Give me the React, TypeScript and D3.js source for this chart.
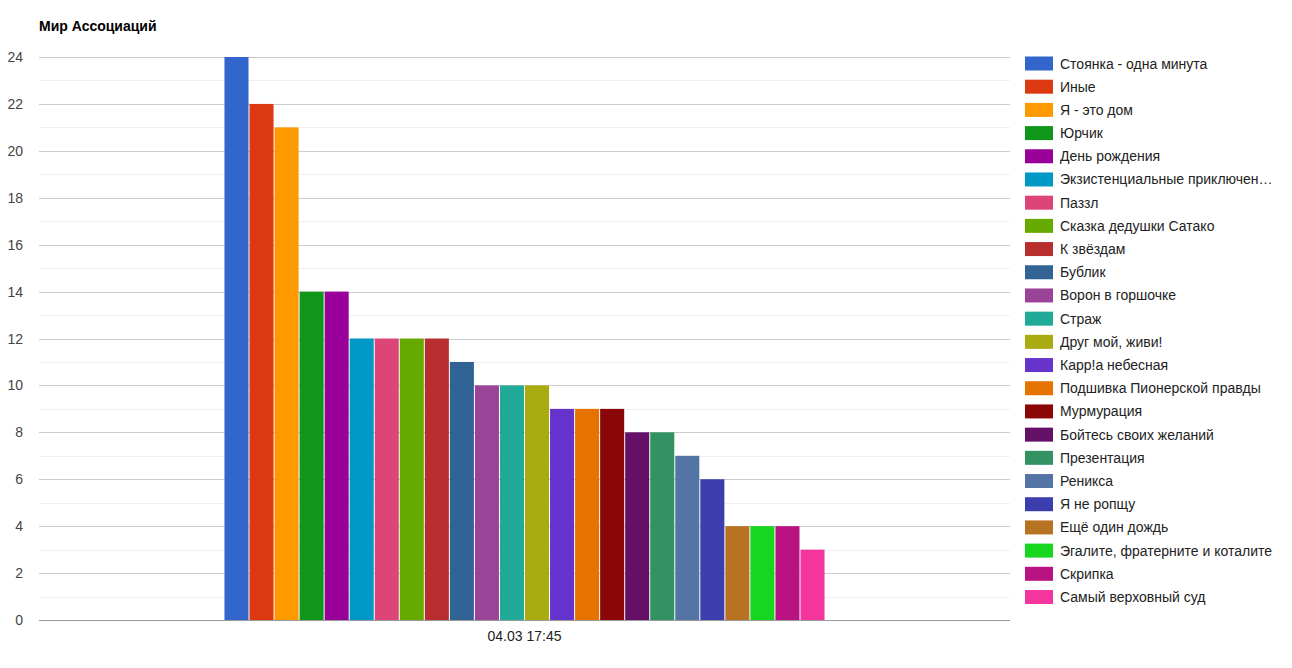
import React, { useEffect, useRef } from 'react';
import * as d3 from 'd3';

const title = 'Мир Ассоциаций';
const category = '04.03 17:45';

const seriesNames = [
  'Стоянка - одна минута',
  'Иные',
  'Я - это дом',
  'Юрчик',
  'День рождения',
  'Экзистенциальные приключения',
  'Паззл',
  'Сказка дедушки Сатако',
  'К звёздам',
  'Бублик',
  'Ворон в горшочке',
  'Страж',
  'Друг мой, живи!',
  'Карр!а небесная',
  'Подшивка Пионерской правды',
  'Мурмурация',
  'Бойтесь своих желаний',
  'Презентация',
  'Реникса',
  'Я не ропщу',
  'Ещё один дождь',
  'Эгалите, фратерните и коталите',
  'Скрипка',
  'Самый верховный суд',
];

const seriesValues = [24, 22, 21, 14, 14, 12, 12, 12, 12, 11, 10, 10, 10, 9, 9, 9, 8, 8, 7, 6, 4, 4, 4, 3];

const colors = [
  '#3366cc', '#dc3912', '#ff9900', '#109618', '#990099', '#0099c6',
  '#dd4477', '#66aa00', '#b82e2e', '#316395', '#994499', '#22aa99',
  '#aaaa11', '#6633cc', '#e67300', '#8b0707', '#651067', '#329262',
  '#5574a6', '#3b3eac', '#b77322', '#16d620', '#b91383', '#f4359e',
];

const yTicks = [0, 2, 4, 6, 8, 10, 12, 14, 16, 18, 20, 22, 24];

const WIDTH = 1292;
const HEIGHT = 668;
const FONT = 'Arial, "Liberation Sans", sans-serif';

export default function App() {
  const svgRef = useRef<SVGSVGElement>(null);

  useEffect(() => {
    if (!svgRef.current) return;
    const svg = d3.select(svgRef.current);
    svg.selectAll('*').remove();

    const plot = { left: 39, right: 1010, top: 57, bottom: 620 };

    svg.append('rect').attr('width', WIDTH).attr('height', HEIGHT).attr('fill', '#fff');

    // Title
    svg.append('text')
      .attr('x', 39)
      .attr('y', 31)
      .attr('font-family', FONT)
      .attr('font-size', '14px')
      .attr('font-weight', 'bold')
      .attr('fill', '#000')
      .text(title);

    const y = d3.scaleLinear().domain([0, 24]).range([plot.bottom, plot.top]);

    // minor gridlines (odd values)
    const minor = d3.range(1, 24, 2);
    svg.append('g')
      .selectAll('line')
      .data(minor)
      .join('line')
      .attr('x1', plot.left)
      .attr('x2', plot.right)
      .attr('y1', d => Math.round(y(d)) + 0.5)
      .attr('y2', d => Math.round(y(d)) + 0.5)
      .attr('stroke', '#f0f0f0');

    // major gridlines
    svg.append('g')
      .selectAll('line')
      .data(yTicks.filter(d => d !== 0))
      .join('line')
      .attr('x1', plot.left)
      .attr('x2', plot.right)
      .attr('y1', d => Math.round(y(d)) + 0.5)
      .attr('y2', d => Math.round(y(d)) + 0.5)
      .attr('stroke', '#cccccc');

    // y tick labels
    svg.append('g')
      .selectAll('text')
      .data(yTicks)
      .join('text')
      .attr('x', 23)
      .attr('y', d => y(d) + 5)
      .attr('text-anchor', 'end')
      .attr('font-family', FONT)
      .attr('font-size', '14px')
      .attr('fill', '#444')
      .text(d => String(d));

    // bars
    const x0 = d3.scaleBand<string>()
      .domain([category])
      .range([plot.left, plot.right])
      .paddingInner(0)
      .paddingOuter((1 - 0.618) / 2 / 0.618);
    const x1 = d3.scaleBand<string>()
      .domain(seriesNames)
      .range([0, x0.bandwidth()])
      .paddingInner(0.04)
      .paddingOuter(0);

    const group = svg.append('g').attr('transform', `translate(${x0(category)},0)`);
    group.selectAll('rect')
      .data(seriesNames)
      .join('rect')
      .attr('x', d => x1(d)!)
      .attr('width', x1.bandwidth())
      .attr('y', (d, i) => y(seriesValues[i]))
      .attr('height', (d, i) => y(0) - y(seriesValues[i]))
      .attr('fill', (d, i) => colors[i]);

    // baseline
    svg.append('line')
      .attr('x1', plot.left)
      .attr('x2', plot.right)
      .attr('y1', y(0) + 0.5)
      .attr('y2', y(0) + 0.5)
      .attr('stroke', '#999');

    // x label
    svg.append('text')
      .attr('x', x0(category)! + x0.bandwidth() / 2)
      .attr('y', 641)
      .attr('text-anchor', 'middle')
      .attr('font-family', FONT)
      .attr('font-size', '14px')
      .attr('fill', '#222')
      .text(category);

    // legend
    const legendY = d3.scalePoint<string>()
      .domain(seriesNames)
      .range([63.5, 597]);
    const maxTextWidth = 213;
    const legend = svg.append('g');
    const items = legend.selectAll('g')
      .data(seriesNames)
      .join('g')
      .attr('transform', d => `translate(1025,${legendY(d)})`);
    items.append('rect')
      .attr('x', 0)
      .attr('y', -7)
      .attr('width', 28)
      .attr('height', 14)
      .attr('fill', (d, i) => colors[i]);
    items.append('text')
      .attr('x', 35)
      .attr('y', 5)
      .attr('font-family', FONT)
      .attr('font-size', '14px')
      .attr('fill', '#222')
      .text(d => d)
      .each(function (d) {
        const el = this as SVGTextElement;
        if (el.getComputedTextLength() <= maxTextWidth) return;
        let s = d;
        while (s.length > 1) {
          s = s.slice(0, -1).trimEnd();
          el.textContent = s + '…';
          if (el.getComputedTextLength() <= maxTextWidth) break;
        }
      });
  }, []);

  return (
    <svg
      ref={svgRef}
      width={WIDTH}
      height={HEIGHT}
      style={{ position: 'absolute', top: 0, left: 0, display: 'block' }}
    />
  );
}
